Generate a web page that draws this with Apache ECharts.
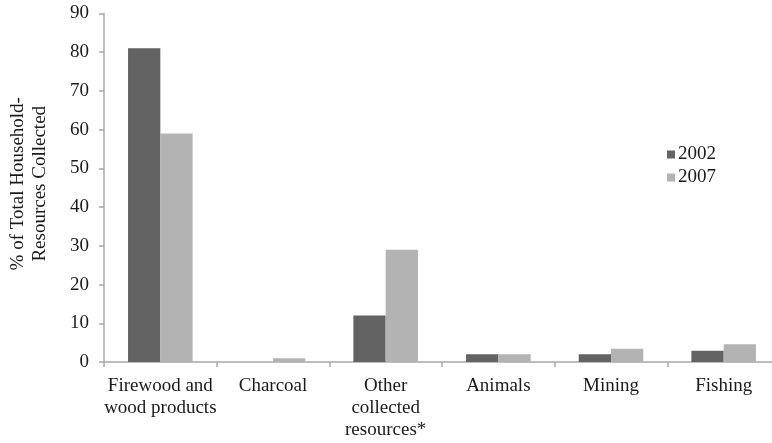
<!DOCTYPE html>
<html>
<head>
<meta charset="utf-8">
<script src="https://cdn.jsdelivr.net/npm/echarts@6/dist/echarts.min.js"></script>
<style>
  html, body { margin: 0; padding: 0; background: #fff; }
  #chart { width: 772px; height: 443px; }
</style>
</head>
<body>
<div id="chart"></div>
<script>
// Share of household resources collected, by resource type
const categories = [
  'Firewood and\nwood products',
  'Charcoal',
  'Other\ncollected\nresources*',
  'Animals',
  'Mining',
  'Fishing'
];
const values2002 = [81, 0, 12, 2, 2, 2.9];
const values2007 = [59, 1, 29, 2, 3.4, 4.6];
const yTicks = { min: 0, max: 90, interval: 10 };

const serif = '"Liberation Serif", "Times New Roman", serif';
const axisGrey = '#a8a8a8';
const textColor = '#1a1a1a';

const chart = echarts.init(document.getElementById('chart'), null, { renderer: 'canvas' });
chart.setOption({
  animation: false,
  backgroundColor: '#ffffff',
  textStyle: { fontFamily: serif },
  grid: { left: 104, top: 13.5, width: 676, bottom: 81, containLabel: false, outerBoundsMode: 'none' },
  legend: {
    orient: 'vertical',
    left: 662,
    top: 140,
    itemWidth: 8,
    itemHeight: 8,
    itemGap: 4,
    icon: 'rect',
    textStyle: { fontFamily: serif, fontSize: 19, color: textColor, padding: [0, 0, 0, -2] },
    data: ['2002', '2007']
  },
  xAxis: {
    type: 'category',
    data: categories,
    axisLine: { lineStyle: { color: axisGrey, width: 1.5 } },
    axisTick: { show: true, length: 5, lineStyle: { color: axisGrey, width: 1.5 } },
    axisLabel: {
      interval: 0,
      margin: 13,
      fontFamily: serif,
      fontSize: 19,
      lineHeight: 22,
      color: textColor
    }
  },
  yAxis: {
    type: 'value',
    min: yTicks.min,
    max: yTicks.max,
    interval: yTicks.interval,
    name: '% of Total Household-\nResources Collected',
    nameLocation: 'middle',
    nameGap: 53,
    nameRotate: 90,
    nameTextStyle: { fontFamily: serif, fontSize: 19, lineHeight: 22, color: textColor, padding: [0, 0, 0, 8] },
    axisLine: { show: true, lineStyle: { color: axisGrey, width: 1.5 } },
    axisTick: { show: true, length: 5, lineStyle: { color: axisGrey, width: 1.5 } },
    splitLine: { show: false },
    axisLabel: { margin: 15, fontFamily: serif, fontSize: 19, color: textColor }
  },
  series: [
    {
      name: '2002',
      type: 'bar',
      data: values2002,
      barGap: '0%',
      barCategoryGap: '42.7%',
      itemStyle: { color: '#636363' }
    },
    {
      name: '2007',
      type: 'bar',
      data: values2007,
      barGap: '0%',
      barCategoryGap: '42.7%',
      itemStyle: { color: '#b3b3b3' }
    }
  ]
});
</script>
</body>
</html>
